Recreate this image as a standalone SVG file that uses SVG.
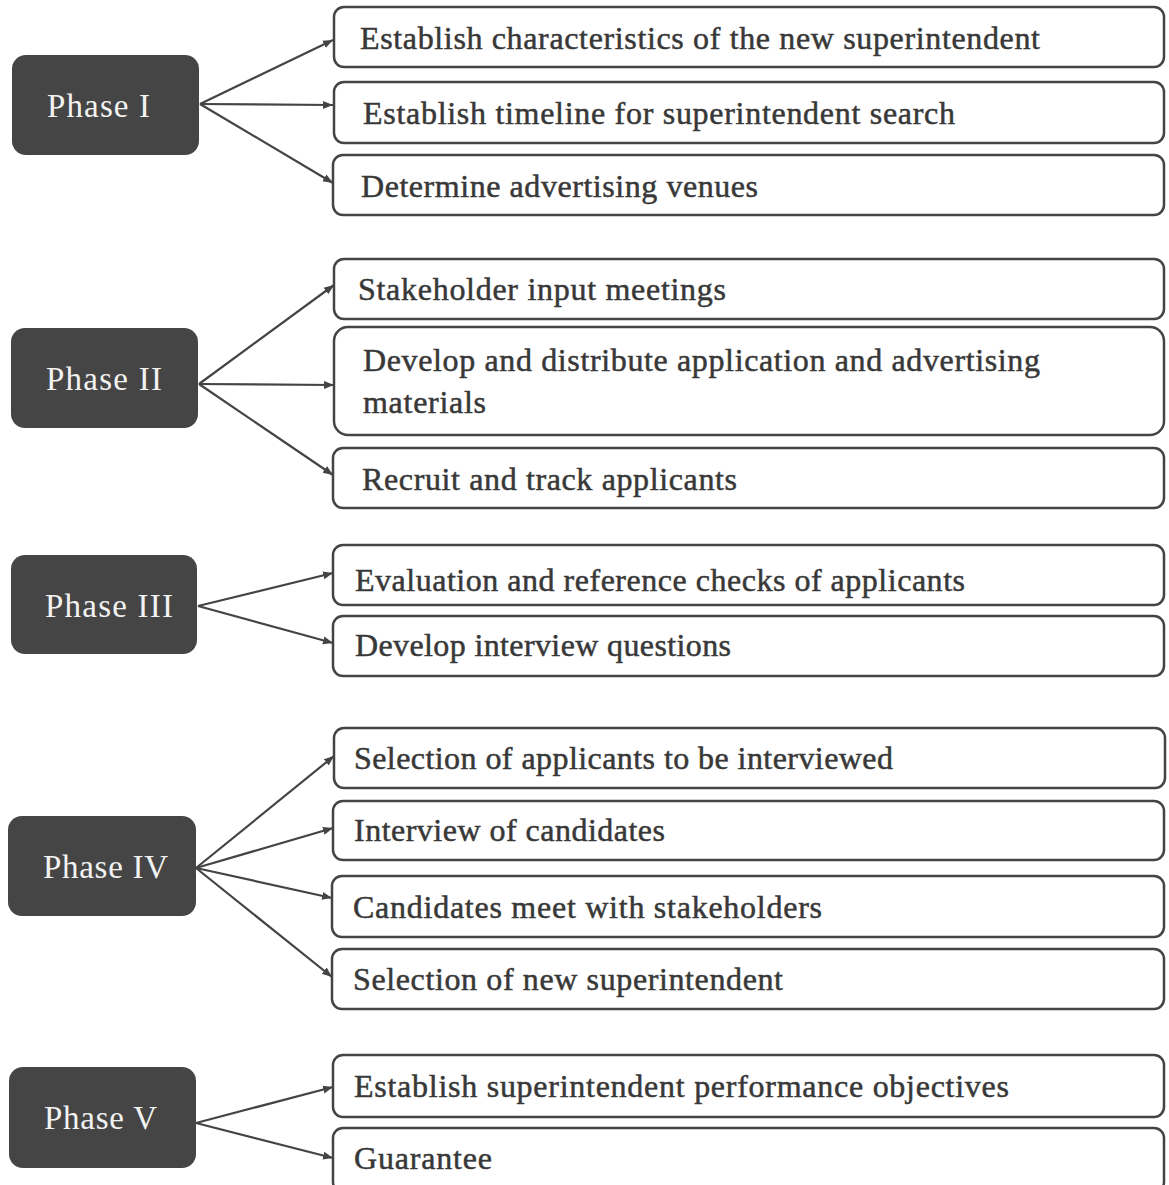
<svg xmlns="http://www.w3.org/2000/svg" width="1169" height="1185" viewBox="0 0 1169 1185">
<style>
.phase rect{fill:#454545;}
.phase text{font-family:"Liberation Serif","DejaVu Serif",serif;font-size:33px;fill:#f2f2f2;}
.task rect{fill:#ffffff;stroke:#444444;stroke-width:2.5;}
.task text{font-family:"Liberation Serif","DejaVu Serif",serif;font-size:32px;fill:#383838;stroke:#383838;stroke-width:0.5;}
.conn line{stroke:#444444;stroke-width:2.2;marker-end:url(#ah);}
</style>
<defs>
<marker id="ah" markerUnits="userSpaceOnUse" markerWidth="10" markerHeight="10" viewBox="0 0 10 10" refX="10" refY="5" orient="auto">
<path d="M0,1 L10,5 L0,9 z" fill="#444444"/>
</marker>
</defs>
<rect width="1169" height="1185" fill="#ffffff"/>

<g id="connectors" class="conn">
<line x1="200" y1="104" x2="333" y2="40"/>
<line x1="200" y1="104" x2="333" y2="105"/>
<line x1="200" y1="104" x2="333" y2="183"/>
<line x1="199" y1="384" x2="334" y2="285"/>
<line x1="199" y1="384" x2="334" y2="385"/>
<line x1="199" y1="384" x2="333" y2="475"/>
<line x1="198" y1="606" x2="333" y2="573"/>
<line x1="198" y1="606" x2="333" y2="643"/>
<line x1="196" y1="868" x2="334" y2="756"/>
<line x1="196" y1="868" x2="333" y2="828"/>
<line x1="196" y1="868" x2="332" y2="898"/>
<line x1="196" y1="868" x2="332" y2="977"/>
<line x1="196" y1="1123" x2="333" y2="1087"/>
<line x1="196" y1="1123" x2="333" y2="1158"/>
</g>

<g id="phase1" class="phase"><rect x="12" y="55" width="187" height="100" rx="14"/><text x="47" y="117" textLength="103">Phase I</text></g>
<g id="phase2" class="phase"><rect x="11" y="328" width="187" height="100" rx="14"/><text x="46" y="390" textLength="116">Phase II</text></g>
<g id="phase3" class="phase"><rect x="11" y="555" width="186" height="99" rx="14"/><text x="45" y="617" textLength="128">Phase III</text></g>
<g id="phase4" class="phase"><rect x="8" y="816" width="188" height="100" rx="14"/><text x="43" y="878" textLength="125">Phase IV</text></g>
<g id="phase5" class="phase"><rect x="9" y="1067" width="187" height="101" rx="14"/><text x="44" y="1129" textLength="113">Phase V</text></g>

<g id="task1a" class="task"><rect x="334" y="7" width="830" height="60" rx="10"/><text x="360" y="49" textLength="680">Establish characteristics of the new superintendent</text></g>
<g id="task1b" class="task"><rect x="334" y="82" width="830" height="61" rx="10"/><text x="363" y="124" textLength="592">Establish timeline for superintendent search</text></g>
<g id="task1c" class="task"><rect x="333" y="155" width="831" height="60" rx="10"/><text x="361" y="197" textLength="397">Determine advertising venues</text></g>

<g id="task2a" class="task"><rect x="334" y="259" width="830" height="60" rx="10"/><text x="358" y="300" textLength="368">Stakeholder input meetings</text></g>
<g id="task2b" class="task"><rect x="334" y="327" width="830" height="108" rx="14"/><text x="363" y="371" textLength="677">Develop and distribute application and advertising</text><text x="363" y="413" textLength="123">materials</text></g>
<g id="task2c" class="task"><rect x="333" y="448" width="831" height="60" rx="10"/><text x="362" y="490" textLength="375">Recruit and track applicants</text></g>

<g id="task3a" class="task"><rect x="333" y="545" width="831" height="60" rx="10"/><text x="355" y="591" textLength="610">Evaluation and reference checks of applicants</text></g>
<g id="task3b" class="task"><rect x="333" y="616" width="831" height="60" rx="10"/><text x="355" y="656" textLength="376">Develop interview questions</text></g>

<g id="task4a" class="task"><rect x="334" y="728" width="831" height="60" rx="10"/><text x="354" y="769" textLength="539">Selection of applicants to be interviewed</text></g>
<g id="task4b" class="task"><rect x="333" y="801" width="831" height="59" rx="10"/><text x="354" y="841" textLength="311">Interview of candidates</text></g>
<g id="task4c" class="task"><rect x="332" y="876" width="832" height="61" rx="10"/><text x="353" y="918" textLength="469">Candidates meet with stakeholders</text></g>
<g id="task4d" class="task"><rect x="332" y="949" width="832" height="60" rx="10"/><text x="353" y="990" textLength="430">Selection of new superintendent</text></g>

<g id="task5a" class="task"><rect x="333" y="1055" width="831" height="62" rx="10"/><text x="354" y="1097" textLength="655">Establish superintendent performance objectives</text></g>
<g id="task5b" class="task"><rect x="333" y="1128" width="831" height="64" rx="10"/><text x="354" y="1169" textLength="138">Guarantee</text></g>
</svg>
